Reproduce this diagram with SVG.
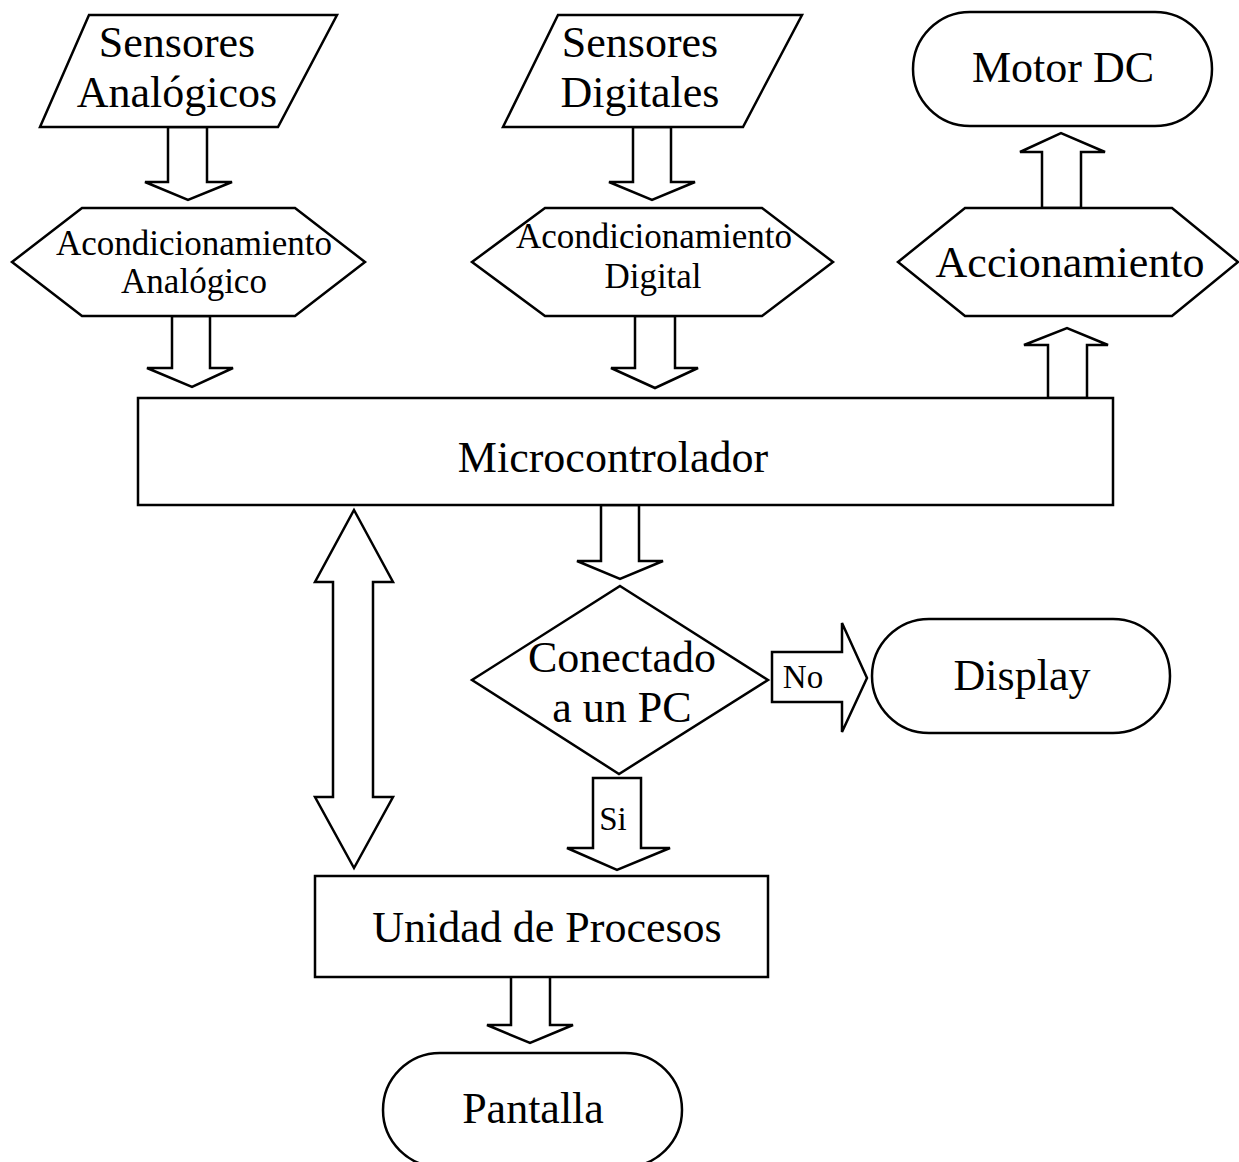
<svg xmlns="http://www.w3.org/2000/svg" width="1239" height="1162" viewBox="0 0 1239 1162">
<style>
.s{fill:#fff;stroke:#000;stroke-width:2.5;stroke-linejoin:miter}
.t{font-family:"Liberation Serif","Times New Roman",serif;font-size:44px;fill:#000;text-anchor:middle}
.m{font-size:35px}
.l{font-size:33px}
</style>
<rect width="1239" height="1162" fill="#fff"/>
<g id="connectors">
<polygon class="s" points="168,127 207,127 207,182 232,182 188,200 145,182 168,182"/>
<polygon class="s" points="172,316 210,316 210,368 233,368 192,387 147,368 172,368"/>
<polygon class="s" points="633,127 671,127 671,182 695,182 652,200 609,182 633,182"/>
<polygon class="s" points="635,316 675,316 675,368 698,368 655,388 611,368 635,368"/>
<polygon class="s" points="1042,208 1081,208 1081,152 1105,152 1061,133 1020,152 1042,152"/>
<polygon class="s" points="1048,398 1087,398 1087,345 1108,345 1067,328 1024,345 1048,345"/>
<polygon class="s" points="601,505 639,505 639,561 663,561 620,579 577,561 601,561"/>
<polygon class="s" points="354,510 393,582 373,582 373,797 393,797 354,868 315,797 333,797 333,582 315,582"/>
<polygon class="s" points="593,778 641,778 641,848 670,848 617,870 567,848 593,848"/>
<polygon class="s" points="772,652 842,652 842,623 867,678 842,732 842,702 772,702"/>
<polygon class="s" points="511,972 550,972 550,1025 573,1025 530,1043 487,1025 511,1025"/>
<text class="t l" x="613" y="830">Si</text>
<text class="t l" x="803" y="688">No</text>
</g>
<g id="sensores-analogicos">
<polygon class="s" points="89,15 337,15 278,127 40,127"/>
<text class="t" x="177" y="57">Sensores</text>
<text class="t" x="177" y="107">Analógicos</text>
</g>
<g id="sensores-digitales">
<polygon class="s" points="558,15 802,15 743,127 503,127"/>
<text class="t" x="640" y="57">Sensores</text>
<text class="t" x="640" y="107">Digitales</text>
</g>
<g id="motor-dc">
<rect class="s" x="913" y="12" width="299" height="114" rx="57" ry="57"/>
<text class="t" x="1063" y="82">Motor DC</text>
</g>
<g id="acond-analogico">
<polygon class="s" points="82,208 295,208 365,262 295,316 82,316 12,262"/>
<text class="t m" x="194" y="255">Acondicionamiento</text>
<text class="t m" x="194" y="293">Analógico</text>
</g>
<g id="acond-digital">
<polygon class="s" points="545,208 762,208 833,262 762,316 545,316 472,262"/>
<text class="t m" x="654" y="248">Acondicionamiento</text>
<text class="t m" x="653" y="288">Digital</text>
</g>
<g id="accionamiento">
<polygon class="s" points="965,208 1172,208 1238,262 1172,316 965,316 898,262"/>
<text class="t" x="1070" y="277">Accionamiento</text>
</g>
<g id="microcontrolador">
<rect class="s" x="138" y="398" width="975" height="107"/>
<text class="t" x="613" y="472">Microcontrolador</text>
</g>
<g id="conectado">
<polygon class="s" points="620,586 768,680 619,774 472,680"/>
<text class="t" x="622" y="672">Conectado</text>
<text class="t" x="622" y="722">a un PC</text>
</g>
<g id="display">
<rect class="s" x="872" y="619" width="298" height="114" rx="57" ry="57"/>
<text class="t" x="1022" y="690">Display</text>
</g>
<g id="unidad-procesos">
<rect class="s" x="315" y="876" width="453" height="101"/>
<text class="t" x="547" y="942">Unidad de Procesos</text>
</g>
<g id="pantalla">
<rect class="s" x="383" y="1053" width="299" height="114" rx="57" ry="57"/>
<text class="t" x="533" y="1123">Pantalla</text>
</g>
</svg>
